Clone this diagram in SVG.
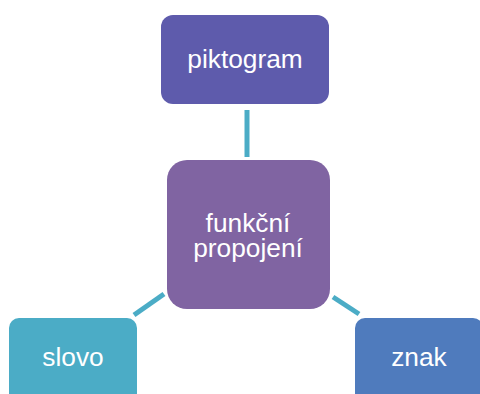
<svg xmlns="http://www.w3.org/2000/svg" width="480" height="394" viewBox="0 0 480 394">
<style>
.t{font-family:"Liberation Sans",Arial,sans-serif;font-size:26.3px;fill:#fff;text-anchor:middle}
.c{stroke:#4bacc6;stroke-width:5;fill:none}
</style>
<rect width="480" height="394" fill="#fff"/>
<g id="connectors">
<line class="c" x1="247" y1="110" x2="247" y2="157"/>
<line class="c" x1="134" y1="315" x2="164" y2="294"/>
<line class="c" x1="333" y1="297" x2="359" y2="314"/>
</g>
<g id="piktogram">
<rect x="161" y="15" width="168" height="89" rx="12" fill="#5e5bac"/>
<text class="t" x="245" y="68">piktogram</text>
</g>
<g id="center">
<rect x="167" y="160" width="163" height="149" rx="20" fill="#8064a2"/>
<text class="t" x="248" y="232"><tspan x="248">funkční</tspan><tspan x="248" dy="24.5">propojení</tspan></text>
</g>
<g id="slovo">
<rect x="9" y="318" width="128" height="90" rx="10" fill="#4bacc6"/>
<text class="t" x="73" y="366">slovo</text>
</g>
<g id="znak">
<rect x="355" y="318" width="128" height="90" rx="10" fill="#4f7bbd"/>
<text class="t" x="419" y="366">znak</text>
</g>
</svg>
